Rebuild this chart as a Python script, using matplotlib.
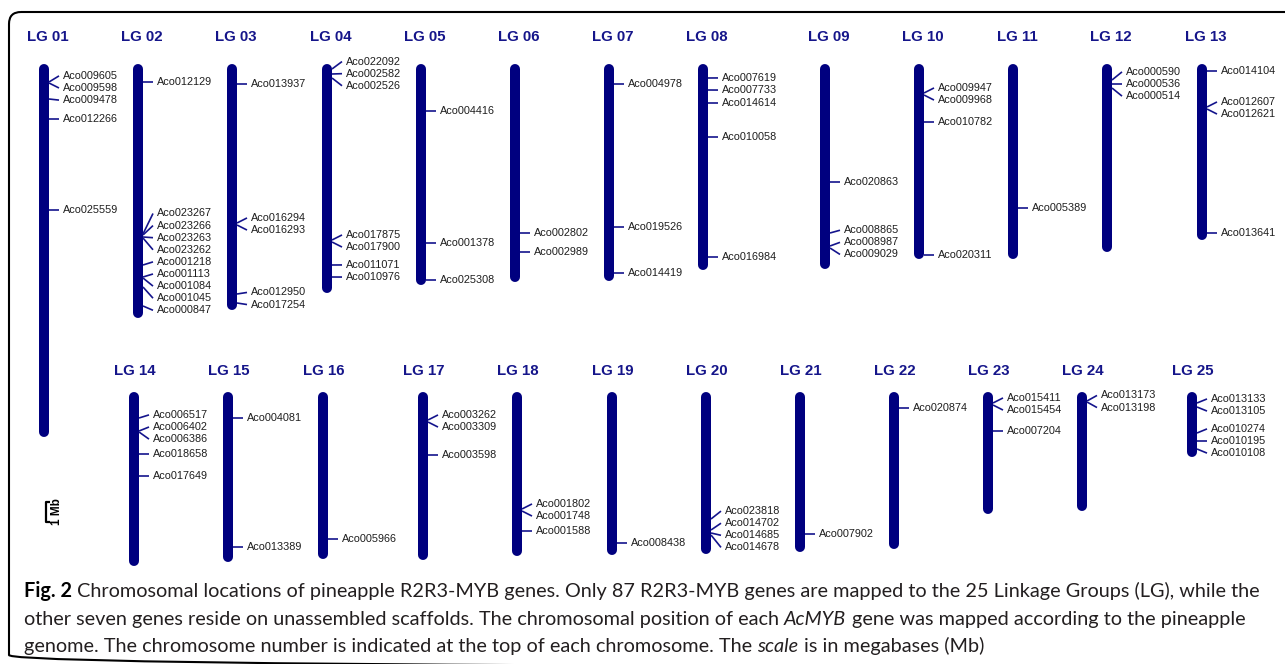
import numpy as np
import matplotlib
matplotlib.use("Agg")
import matplotlib.pyplot as plt
from matplotlib.patches import FancyBboxPatch

W, H = 1285, 664
PX_PER_MB = 20.0

# linkage groups and their lengths (Mb)
top_groups = ["LG 01", "LG 02", "LG 03", "LG 04", "LG 05", "LG 06", "LG 07",
              "LG 08", "LG 09", "LG 10", "LG 11", "LG 12", "LG 13"]
top_lengths = [18.65, 12.7, 12.3, 11.45, 11.05, 10.9, 10.85,
               10.3, 10.25, 9.75, 9.75, 9.4, 8.8]
bottom_groups = ["LG 14", "LG 15", "LG 16", "LG 17", "LG 18", "LG 19",
                 "LG 20", "LG 21", "LG 22", "LG 23", "LG 24", "LG 25"]
bottom_lengths = [8.7, 8.5, 8.35, 8.4, 8.2, 8.15, 8.1, 8.0, 7.85, 6.1, 5.95, 3.25]

# mapped R2R3-MYB genes: id, linkage group, position (Mb)
gene_ids = [
    "Aco009605", "Aco009598", "Aco009478", "Aco012266", "Aco025559",
    "Aco012129", "Aco023267", "Aco023266", "Aco023263", "Aco023262",
    "Aco001218", "Aco001113", "Aco001084", "Aco001045", "Aco000847",
    "Aco013937", "Aco016294", "Aco016293", "Aco012950", "Aco017254",
    "Aco022092", "Aco002582", "Aco002526", "Aco017875", "Aco017900",
    "Aco011071", "Aco010976",
    "Aco004416", "Aco001378", "Aco025308",
    "Aco002802", "Aco002989",
    "Aco004978", "Aco019526", "Aco014419",
    "Aco007619", "Aco007733", "Aco014614", "Aco010058", "Aco016984",
    "Aco020863", "Aco008865", "Aco008987", "Aco009029",
    "Aco009947", "Aco009968", "Aco010782", "Aco020311",
    "Aco005389",
    "Aco000590", "Aco000536", "Aco000514",
    "Aco014104", "Aco012607", "Aco012621", "Aco013641",
    "Aco006517", "Aco006402", "Aco006386", "Aco018658", "Aco017649",
    "Aco004081", "Aco013389",
    "Aco005966",
    "Aco003262", "Aco003309", "Aco003598",
    "Aco001802", "Aco001748", "Aco001588",
    "Aco008438",
    "Aco023818", "Aco014702", "Aco014685", "Aco014678",
    "Aco007902",
    "Aco020874",
    "Aco015411", "Aco015454", "Aco007204",
    "Aco013173", "Aco013198",
    "Aco013133", "Aco013105", "Aco010274", "Aco010195", "Aco010108",
]
gene_lg = ([1] * 5 + [2] * 10 + [3] * 5 + [4] * 7 + [5] * 3 + [6] * 2 + [7] * 3
           + [8] * 5 + [9] * 4 + [10] * 4 + [11] * 1 + [12] * 3 + [13] * 4
           + [14] * 5 + [15] * 2 + [16] * 1 + [17] * 3 + [18] * 3 + [19] * 1
           + [20] * 4 + [21] * 1 + [22] * 1 + [23] * 3 + [24] * 2 + [25] * 5)
gene_mb = [
    0.9, 0.95, 1.75, 2.75, 7.3,
    0.9, 8.5, 8.55, 8.65, 8.7, 10.05, 10.65, 10.7, 11.15, 12.1,
    1.0, 7.95, 8.05, 11.5, 11.95,
    0.25, 0.5, 0.7, 8.8, 8.9, 10.05, 10.65,
    2.35, 8.95, 10.8,
    8.45, 9.4,
    1.0, 8.15, 10.45,
    0.7, 1.3, 1.95, 3.65, 9.65,
    5.9, 8.45, 9.1, 9.2,
    1.45, 1.55, 2.9, 9.55,
    7.2,
    0.8, 1.0, 1.2,
    0.35, 2.15, 2.25, 8.45,
    1.3, 1.95, 2.0, 3.1, 4.2,
    1.3, 7.75,
    7.35,
    1.4, 1.5, 3.15,
    5.85, 5.95, 6.95,
    7.55,
    6.35, 6.9, 7.05, 7.15,
    7.1,
    0.8,
    0.55, 0.65, 1.95,
    0.45, 0.5,
    0.55, 0.75, 2.05, 2.45, 2.85,
]

# horizontal placement of the chromosomes (pixels)
top_x = [44, 138, 232, 327, 421, 515, 609, 703, 825, 919, 1013, 1107, 1202]
bottom_x = [134, 228, 323, 423, 517, 612, 706, 800, 894, 988, 1082, 1192]

CHROM = "#00007f"
TICK = "#14148c"
TITLE = "#15158a"
GENE_TXT = "#1e1e1e"
CAP_TXT = "#231f20"
HALF = 5 / PX_PER_MB          # half bar width, used for the round caps
GAP = 12.1 / PX_PER_MB        # minimum spacing between gene labels

plt.rcParams["font.family"] = ["Liberation Sans", "DejaVu Sans"]


def spread_labels(pos, gap):
    """Push overlapping labels apart, keeping each cluster centred on its genes."""
    pos = np.asarray(pos, dtype=float)
    order = np.argsort(pos, kind="stable")
    p = pos[order]
    clusters = []
    for i, v in enumerate(p):
        clusters.append([i, 1, v])
        while len(clusters) > 1:
            a, b = clusters[-2], clusters[-1]
            if a[2] + a[1] * gap > b[2] + 1e-9:
                i0, n = a[0], a[1] + b[1]
                start = np.mean(p[i0:i0 + n] - gap * np.arange(n))
                clusters[-2:] = [[i0, n, start]]
            else:
                break
    out = np.empty(len(p))
    for i0, n, s in clusters:
        out[order[i0:i0 + n]] = s + gap * np.arange(n)
    return out


def row_axes(fig, y0, y1, chrom_top):
    ax = fig.add_axes([0, 1 - y1 / H, 1, (y1 - y0) / H])
    ax.set_xlim(0, W)
    ax.set_ylim((y1 - chrom_top) / PX_PER_MB, (y0 - chrom_top) / PX_PER_MB)
    ax.axis("off")
    ax.patch.set_alpha(0)
    return ax


def draw_group(ax, cx, name, length, num, title_y, title_dx):
    ax.plot([cx, cx], [HALF, length - HALF], color=CHROM, lw=7.2,
            solid_capstyle="round", clip_on=False)
    ax.text(cx + title_dx, title_y, name, ha="center", va="center",
            fontsize=10.8, fontweight="bold", color=TITLE, clip_on=False)
    idx = [i for i, g in enumerate(gene_lg) if g == num]
    if not idx:
        return
    mbs = [gene_mb[i] for i in idx]
    labs = spread_labels(mbs, GAP)
    for i, m, lab in zip(idx, mbs, labs):
        ax.plot([cx + 5, cx + 15], [m, lab], color=TICK, lw=1.2,
                solid_capstyle="butt", clip_on=False)
        ax.text(cx + 19, lab, gene_ids[i], ha="left", va="center",
                fontsize=7.8, color=GENE_TXT, clip_on=False)


fig = plt.figure(figsize=(W / 100, H / 100), dpi=100)
fig.patch.set_facecolor("white")

frame = fig.add_axes([0, 0, 1, 1])
frame.set_xlim(0, W)
frame.set_ylim(H, 0)
frame.axis("off")
frame.add_patch(FancyBboxPatch((9, 12), 1400, 655,
                               boxstyle="round,pad=0,rounding_size=12",
                               fill=False, ec="black", lw=1.5))

top_ax = row_axes(fig, 0, 470, 64)
bot_ax = row_axes(fig, 330, 590, 392)

for k, (cx, name, length) in enumerate(zip(top_x, top_groups, top_lengths)):
    draw_group(top_ax, cx, name, length, k + 1, -1.35, 4)
for k, (cx, name, length) in enumerate(zip(bottom_x, bottom_groups, bottom_lengths)):
    draw_group(bot_ax, cx, name, length, k + 14, -1.05, 1)

# 1 Mb scale bar
bar_top = 5.5
bot_ax.plot([50, 46, 46, 50], [bar_top, bar_top, bar_top + 1, bar_top + 1],
            color="black", lw=1.6, solid_capstyle="butt")
bot_ax.text(57, bar_top + 0.5, "1 Mb", rotation=90, ha="center", va="center",
            fontsize=8.5, fontweight="bold", color="black")

# caption
CAP_FONT = ["Lato", "DejaVu Sans"]
caption = [
    [("Fig. 2", "bold"),
     (" Chromosomal locations of pineapple R2R3-MYB genes. Only 87 R2R3-MYB genes "
      "are mapped to the 25 Linkage Groups (LG), while the", "normal")],
    [("other seven genes reside on unassembled scaffolds. The chromosomal position "
      "of each ", "normal"), ("AcMYB", "italic"),
     (" gene was mapped according to the pineapple", "normal")],
    [("genome. The chromosome number is indicated at the top of each chromosome. The ",
      "normal"), ("scale", "italic"), (" is in megabases (Mb)", "normal")],
]
renderer = fig.canvas.get_renderer()


def text_kw(style, size):
    kw = dict(fontsize=size, family=CAP_FONT, color=CAP_TXT, ha="left", va="baseline")
    if style == "bold":
        kw["fontweight"] = "bold"
        kw["color"] = "black"
    elif style == "italic":
        kw["fontstyle"] = "italic"
    return kw


def draw_runs(ax, x, y, runs, size, draw=True):
    sp_a = ax.text(0, 0, "a a", **text_kw("normal", size))
    sp_b = ax.text(0, 0, "aa", **text_kw("normal", size))
    space = sp_a.get_window_extent(renderer).width - sp_b.get_window_extent(renderer).width
    sp_a.remove()
    sp_b.remove()
    x0 = x
    for s, style in runs:
        lead = len(s) - len(s.lstrip(" "))
        trail = len(s) - len(s.rstrip(" "))
        x += lead * space
        t = ax.text(x, y, s.strip(" "), **text_kw(style, size))
        x += t.get_window_extent(renderer).width + trail * space
        if not draw:
            t.remove()
    return x - x0


size = 10.0
w = draw_runs(frame, 0, 0, caption[0], size, draw=False)
size = size * 1233 / w
for line, base in zip(caption, [597, 625, 652]):
    draw_runs(frame, 24, base, line, size)

fig.savefig("out.png", dpi=100, facecolor="white")
